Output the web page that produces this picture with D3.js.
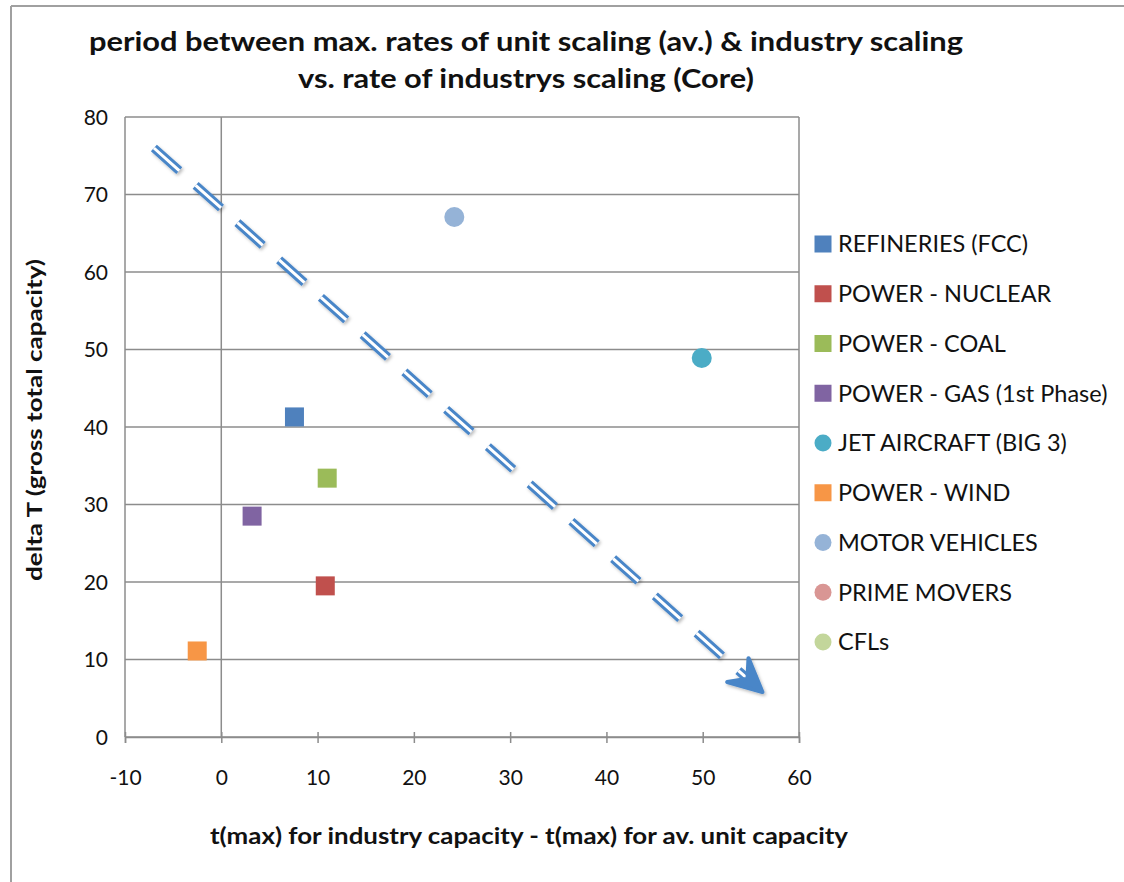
<!DOCTYPE html>
<html><head><meta charset="utf-8">
<script src="https://cdn.jsdelivr.net/npm/d3@7"></script>
<style>
html,body{margin:0;padding:0;background:#fff;}
svg{display:block;}
text{font-family:Lato,"Open Sans",sans-serif;fill:#111;}
</style></head>
<body>
<svg id="chart" width="1124" height="882"></svg>
<script>
// ---- data ----
const seriesNames = ["REFINERIES (FCC)","POWER - NUCLEAR","POWER - COAL","POWER - GAS (1st Phase)","JET AIRCRAFT (BIG 3)","POWER - WIND","MOTOR VEHICLES","PRIME MOVERS","CFLs"];
const seriesShapes = ["square","square","square","square","circle","square","circle","circle","circle"];
const seriesColors = ["#4F81BD","#C0504D","#9BBB59","#8064A2","#4BACC6","#F79646","#95B3D7","#D99694","#C3D69B"];
const xValues = [7.6, 10.8, 11.0, 3.2, 49.9, -2.5, 24.2, null, null];
const yValues = [41.3, 19.5, 33.4, 28.5, 48.9, 11.1, 67.1, null, null];
const xTicks = [-10,0,10,20,30,40,50,60];
const yTicks = [0,10,20,30,40,50,60,70,80];
const arrowFrom = [-7.0, 76.0];
const arrowTo = [56.2, 5.8];
const titleLines = ["period between max. rates of unit scaling (av.) & industry scaling","vs. rate of industrys scaling (Core)"];
const xTitle = "t(max) for industry capacity - t(max) for av. unit capacity";
const yTitle = "delta T (gross total capacity)";

// ---- layout ----
const svg = d3.select("#chart");
const L = 125, R = 799, T = 117, B = 737;
const x = d3.scaleLinear().domain([-10,60]).range([L,R]);
const y = d3.scaleLinear().domain([0,80]).range([B,T]);

// outer chart frame
svg.append("line").attr("x1",11).attr("y1",6).attr("x2",1124).attr("y2",6).attr("stroke","#a0a0a0").attr("stroke-width",2);
svg.append("line").attr("x1",11).attr("y1",6).attr("x2",11).attr("y2",882).attr("stroke","#a0a0a0").attr("stroke-width",2);

// title
svg.selectAll("text.title").data(titleLines).enter().append("text")
  .attr("class","title").attr("x",526).attr("y",(d,i)=>51+i*37)
  .attr("text-anchor","middle").attr("font-weight","bold").attr("font-size",27)
  .attr("textLength",(d,i)=>i===0?874:456).attr("lengthAdjust","spacingAndGlyphs")
  .text(d=>d);

const grid = "#8c8c8c";
// horizontal gridlines
svg.append("g").selectAll("line").data(yTicks).enter().append("line")
  .attr("x1",L).attr("x2",R).attr("y1",d=>y(d)).attr("y2",d=>y(d))
  .attr("stroke",grid).attr("stroke-width",1.5);
// plot border verticals
svg.append("line").attr("x1",L).attr("x2",L).attr("y1",T).attr("y2",B).attr("stroke",grid).attr("stroke-width",1.5);
svg.append("line").attr("x1",R).attr("x2",R).attr("y1",T).attr("y2",B).attr("stroke",grid).attr("stroke-width",1.5);
// y axis at x = 0
svg.append("line").attr("x1",x(0)).attr("x2",x(0)).attr("y1",T).attr("y2",B).attr("stroke",grid).attr("stroke-width",1.5);

// x axis ticks (cross)
const xAxis = d3.axisBottom(x).tickValues(xTicks).tickSize(6).tickFormat(d=>String(d));
const gx = svg.append("g").attr("transform",`translate(0,${B})`).call(xAxis);
gx.select(".domain").attr("stroke",grid).attr("stroke-width",1.5);
gx.selectAll(".tick line").attr("stroke",grid).attr("stroke-width",1.5).attr("y1",-5).attr("y2",6);
gx.selectAll(".tick text").attr("font-size",21).attr("font-family","Lato,sans-serif").attr("fill","#111").attr("y",48).attr("dy",0);

// y axis labels (on left edge)
const yAxis = d3.axisLeft(y).tickValues(yTicks).tickSize(0).tickFormat(d=>String(d));
const gy = svg.append("g").attr("transform",`translate(${L},0)`).call(yAxis);
gy.select(".domain").remove();
gy.selectAll(".tick text").attr("font-size",21).attr("font-family","Lato,sans-serif").attr("fill","#111").attr("x",-17).attr("dy","0.35em");

// axis titles
svg.append("text").attr("x",529).attr("y",844).attr("text-anchor","middle")
  .attr("font-weight","bold").attr("font-size",22).attr("textLength",638).attr("lengthAdjust","spacingAndGlyphs").text(xTitle);
svg.append("text").attr("transform","translate(42,420) rotate(-90)").attr("text-anchor","middle")
  .attr("font-weight","bold").attr("font-size",20).attr("textLength",322).attr("lengthAdjust","spacingAndGlyphs").text(yTitle);

// points
const pts = seriesNames.map((n,i)=>({name:n,shape:seriesShapes[i],color:seriesColors[i],x:xValues[i],y:yValues[i]}))
  .filter(d=>d.x!=null && d.y!=null);
const sq = 19, cr = 10;
const gp = svg.append("g");
gp.selectAll("rect").data(pts.filter(d=>d.shape==="square")).enter().append("rect")
  .attr("x",d=>x(d.x)-sq/2).attr("y",d=>y(d.y)-sq/2).attr("width",sq).attr("height",sq)
  .attr("fill",d=>d.color);
gp.selectAll("circle").data(pts.filter(d=>d.shape==="circle")).enter().append("circle")
  .attr("cx",d=>x(d.x)).attr("cy",d=>y(d.y)).attr("r",cr).attr("fill",d=>d.color);

// arrow
const ax0 = x(arrowFrom[0]), ay0 = y(arrowFrom[1]), ax1 = x(arrowTo[0]), ay1 = y(arrowTo[1]);
const len = Math.hypot(ax1-ax0, ay1-ay0);
const ux = (ax1-ax0)/len, uy = (ay1-ay0)/len, nx = -uy, ny = ux;
const headBack = 33, headHalf = 16, notch = 20;
const nxp = ax1-ux*notch, nyp = ay1-uy*notch;
const defs = svg.append("defs");
const f = defs.append("filter").attr("id","sh").attr("x","-10%").attr("y","-10%").attr("width","130%").attr("height","130%");
f.append("feDropShadow").attr("dx",1.5).attr("dy",2).attr("stdDeviation",1.5).attr("flood-color","#000").attr("flood-opacity",0.25);
const ga = svg.append("g").attr("filter","url(#sh)");
ga.append("line").attr("x1",ax0).attr("y1",ay0).attr("x2",nxp).attr("y2",nyp)
  .attr("stroke","#4A86C8").attr("stroke-width",9).attr("stroke-dasharray","34,22");
ga.append("line").attr("x1",ax0).attr("y1",ay0).attr("x2",nxp).attr("y2",nyp)
  .attr("stroke","#ffffff").attr("stroke-width",3).attr("stroke-dasharray","34,22");
const hp = d3.path();
hp.moveTo(ax1,ay1);
hp.lineTo(ax1-ux*headBack+nx*headHalf, ay1-uy*headBack+ny*headHalf);
hp.lineTo(nxp, nyp);
hp.lineTo(ax1-ux*headBack-nx*headHalf, ay1-uy*headBack-ny*headHalf);
hp.closePath();
ga.append("path").attr("d",hp.toString()).attr("fill","#4A86C8").attr("stroke","#4A86C8").attr("stroke-width",4).attr("stroke-linejoin","round");

// legend
const lg = svg.append("g");
const ly0 = 244, ldy = 49.75;
const items = lg.selectAll("g").data(seriesNames.map((n,i)=>({name:n,shape:seriesShapes[i],color:seriesColors[i]}))).enter()
  .append("g").attr("transform",(d,i)=>`translate(823,${ly0+i*ldy})`);
items.filter(d=>d.shape==="square").append("rect").attr("x",-8.5).attr("y",-8.5).attr("width",17).attr("height",17).attr("fill",d=>d.color);
items.filter(d=>d.shape==="circle").append("circle").attr("r",8.5).attr("fill",d=>d.color);
items.append("text").attr("x",15).attr("dy","0.36em").attr("font-size",23.5).text(d=>d.name);
</script>
</body></html>
